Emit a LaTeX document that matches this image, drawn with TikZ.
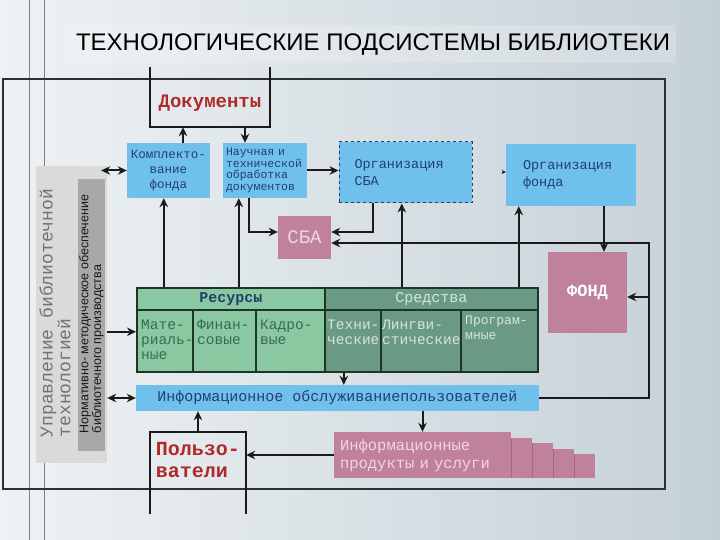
\documentclass[tikz,border=0pt]{standalone}
\usepackage{fontspec}
\setmainfont{Liberation Sans}
\newfontfamily\monofam{Liberation Mono}
\usetikzlibrary{arrows.meta}
\usetikzlibrary{calc,positioning}

\definecolor{bgl}{HTML}{EEF2F4}
\definecolor{bgr}{HTML}{C4D0D7}
\definecolor{bluebox}{HTML}{6FC0EC}
\definecolor{navy}{HTML}{22406E}
\definecolor{pinkbox}{HTML}{C0829A}
\definecolor{pinkedge}{HTML}{A86880}
\definecolor{pinktxt}{HTML}{F0D6E0}
\definecolor{greenA}{HTML}{8AC8A2}
\definecolor{greenB}{HTML}{6A9A84}
\definecolor{greentxt}{HTML}{3A6A4C}
\definecolor{greenBtxt}{HTML}{D4E6DC}
\definecolor{tline}{HTML}{1C3526}
\definecolor{docred}{HTML}{B02A2A}
\definecolor{panelA}{HTML}{DADADA}
\definecolor{panelB}{HTML}{A8A8A8}
\definecolor{wire}{HTML}{1A1A1A}
\definecolor{frame}{HTML}{2C3136}
\definecolor{deco}{HTML}{7A838C}

\newcommand{\fsz}[2]{\fontsize{#1}{#2}\selectfont}

\begin{document}
\begin{tikzpicture}[>={Stealth[length=9pt,width=8.5pt]}, x=1pt, y=-1pt,
  conn/.style={line width=2pt, draw=wire},
  boxline/.style={line width=2.2pt, draw=wire},
  blueblock/.style={fill=bluebox, text=navy, inner sep=0pt},
  pinkblock/.style={fill=pinkbox, inner sep=0pt},
  headcell/.style={draw=tline, line width=1.6pt, minimum height=22pt, anchor=north west, inner sep=0pt},
  rescell/.style={draw=tline, line width=1.6pt, fill=greenA, minimum height=62pt, anchor=north west, inner sep=0pt},
  sredcell/.style={rescell, fill=greenB},
  celltxt/.style={anchor=north west, align=left, inner sep=0pt, xshift=5pt, yshift=-11pt, font=\monofam\fsz{14.5}{15}}]

  % background and frame
  \useasboundingbox (0,0) rectangle (720,540);
  \shade[left color=bgl, right color=bgr] (0,0) rectangle (720,540);
  \fill[white, fill opacity=0.2] (71,25) rectangle (676,63);
  \draw[deco, line width=1pt] (29,0) -- (29,540);
  \draw[deco, line width=1pt] (44,0) -- (44,540);
  \draw[frame, line width=1.8pt] (3,79) rectangle (665,489);

  \node[font=\fsz{24}{26}] (title) at (373,45) {ТЕХНОЛОГИЧЕСКИЕ ПОДСИСТЕМЫ БИБЛИОТЕКИ};

  % left panel
  \node[fill=panelA, minimum width=71pt, minimum height=297pt, inner sep=0pt] (upr) at (71.5,314.5) {};
  \node[fill=panelB, minimum width=27pt, minimum height=272pt, inner sep=0pt] (norm) at (91.5,315) {};
  \node[rotate=90, align=left, text=black!55, font=\monofam\fsz{18}{16}] (uprtext) at (55,313)
    {Управление библиотечной\\технологией};
  \node[rotate=90, align=left, text=black!90, font=\fsz{12.5}{11}] (normtext) at (91.5,314)
    {Нормативно- методическое обеспечение\\библиотечного производства};

  % documents and users
  \node[minimum width=120pt, minimum height=48pt, inner sep=0pt, text=docred,
        font=\monofam\bfseries\fsz{19}{22}] (docs) at (210,103) {Документы};
  \draw[boxline] ([yshift=12pt]docs.north west) |- (docs.south east) -- ([yshift=12pt]docs.north east);
  \node[minimum width=96pt, minimum height=57pt, inner sep=0pt, align=left, text=docred,
        font=\monofam\bfseries\fsz{20}{22}] (users) at (198,460.5) {Пользо-\\ватели};
  \draw[boxline] ([yshift=-25pt]users.south west) |- (users.north east) -- ([yshift=-25pt]users.south east);

  % blue blocks
  \node[blueblock, minimum width=83pt, minimum height=55pt, align=center,
        font=\monofam\fsz{12.5}{15}] (komp) at (168.5,170.5) {Комплекто-\\вание\\фонда};
  \node[blueblock, minimum width=84pt, minimum height=55pt, text width=78pt, align=left,
        font=\monofam\fsz{11.5}{11.5}] (nauch) at (265,170.5) {Научная и\\технической\\обработка\\документов};
  \node[blueblock, draw=navy, dashed, line width=1pt, minimum width=133pt, minimum height=61pt,
        text width=102pt, align=left, font=\monofam\fsz{13.5}{17}] (orgsba) at (405.5,172.5) {Организация\\СБА};
  \node[blueblock, minimum width=130pt, minimum height=62pt, text width=96pt, align=left,
        font=\monofam\fsz{13.5}{17}] (orgfond) at (571,175) {Организация\\фонда};
  \node[blueblock, minimum width=403pt, minimum height=26pt,
        font=\monofam\fsz{15}{17}] (info) at (337.5,398) {Информационное обслуживаниепользователей};

  % pink blocks
  \node[pinkblock, minimum width=53pt, minimum height=43pt, text=pinktxt,
        font=\monofam\fsz{19}{20}] (sba) at (304.5,237.5) {СБА};
  \node[pinkblock, minimum width=79pt, minimum height=81pt, text=white,
        font=\monofam\bfseries\fsz{17}{20}] (fond) at (587.5,292.5) {ФОНД};
  \foreach \xa/\ya in {574/454, 553/449, 532/443, 511/438} {
    \fill[pinkbox] (\xa,\ya) rectangle (\xa+21,478);
    \draw[pinkedge, line width=0.8pt] (\xa,\ya) -- (\xa,478);
  }
  \node[pinkblock, minimum width=177pt, minimum height=46pt, text width=165pt, align=left, text=pinktxt,
        font=\monofam\fsz{15.5}{18}] (prod) at (422.5,455) {Информационные\\продукты и услуги};

  % resources and means
  \node[headcell, fill=greenA, minimum width=188pt, text=navy,
        font=\monofam\bfseries\fsz{15}{17}] (res) at (136,287) {Ресурсы};
  \node[headcell, fill=greenB, minimum width=213pt, text=greenBtxt,
        font=\monofam\fsz{15}{17}] (sred) at (324,287) {Средства};
  \node[rescell, minimum width=56pt, label={[celltxt, text=greentxt]north west:Мате-\\риаль-\\ные}] (mat) at (136,309) {};
  \node[rescell, minimum width=63pt, label={[celltxt, text=greentxt]north west:Финан-\\совые}] (fin) at (192,309) {};
  \node[rescell, minimum width=69pt, label={[celltxt, text=greentxt]north west:Кадро-\\вые}] (kadr) at (255,309) {};
  \node[sredcell, minimum width=56pt, label={[celltxt, text=greenBtxt, xshift=-2pt]north west:Техни-\\ческие}] (tech) at (324,309) {};
  \node[sredcell, minimum width=80pt, label={[celltxt, text=greenBtxt, xshift=-3pt]north west:Лингви-\\стические}] (ling) at (380,309) {};
  \node[sredcell, minimum width=77pt, label={[celltxt, text=greenBtxt, yshift=4pt, font=\monofam\fsz{13}{15}]north west:Програм-\\мные}] (prog) at (460,309) {};

  % connectors
  \draw[conn, ->] ([xshift=14.5pt]komp.north) -- ([xshift=14.5pt]komp.north |- docs.south);
  \draw[conn, ->] ([xshift=-20pt]nauch.north |- docs.south) -- ([xshift=-20pt]nauch.north);
  \draw[conn, <->] ([xshift=-6pt]upr.east |- komp.west) -- (komp.west);
  \draw[conn, ->] (nauch.east) -- (nauch.east -| orgsba.west);
  \draw[conn, ->] ([xshift=-16pt]nauch.south) |- ([yshift=5.5pt]sba.west);
  \draw[conn, ->] ([xshift=-32.5pt]orgsba.south) |- ([yshift=5.5pt]sba.east);
  \draw[conn, ->] (info.east) -- ++(110,0) coordinate (rbus) |- ([yshift=-5.5pt]sba.east);
  \draw[conn, ->] ([yshift=-4.5pt]rbus |- fond.east) -- ([yshift=-4.5pt]fond.east);
  \draw[conn, ->] ([xshift=33pt]orgfond.south) -- ([xshift=33pt]orgfond.south |- fond.north);
  \draw[-{Stealth[length=4pt,width=4pt]}, wire] ([xshift=-4pt, yshift=3pt]orgfond.west) -- ([yshift=3pt]orgfond.west);
  \draw[conn, ->] ([xshift=-67pt]res.north) -- ([xshift=-67pt]res.north |- komp.south);
  \draw[conn, ->] ([xshift=8pt]res.north) -- ([xshift=8pt]res.north |- nauch.south);
  \draw[conn, ->] ([xshift=-29.5pt]sred.north) -- ([xshift=-29.5pt]sred.north |- orgsba.south);
  \draw[conn, ->] ([xshift=87.5pt]sred.north) -- ([xshift=87.5pt]sred.north |- orgfond.south);
  \draw[conn, ->] ([yshift=9pt]mat.west -| upr.east) -- ([yshift=9pt]mat.west);
  \draw[conn, <->] (info.west -| upr.east) -- (info.west);
  \draw[conn, ->] ([xshift=-9pt]tech.south) -- ([xshift=-9pt]tech.south |- info.north);
  \draw[conn, ->] (users.north) -- (users.north |- info.south);
  \draw[conn, ->] (prod.north |- info.south) -- (prod.north);
  \draw[conn, ->] (prod.west) -- (prod.west -| users.east);

\end{tikzpicture}
\end{document}
